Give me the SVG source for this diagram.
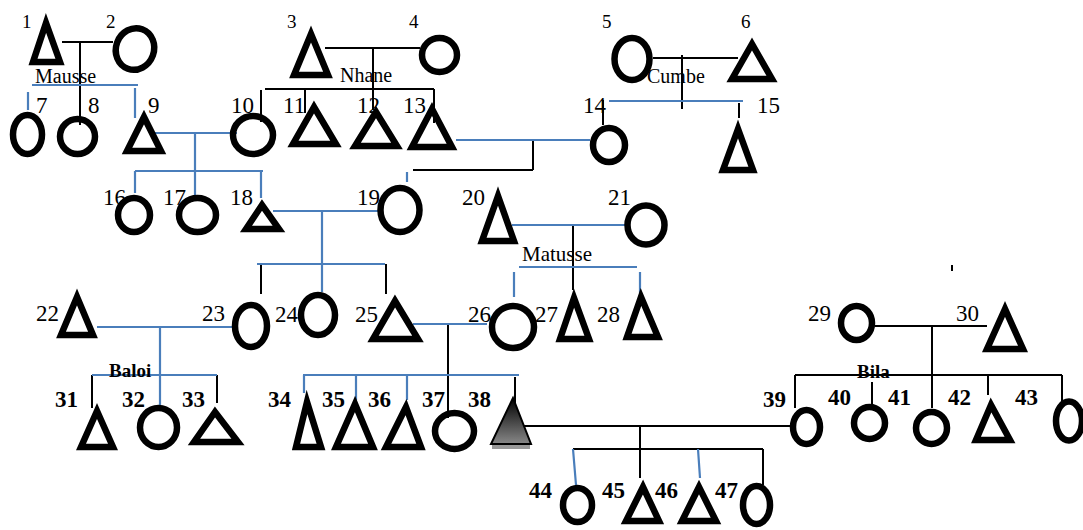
<svg xmlns="http://www.w3.org/2000/svg" width="1083" height="530" viewBox="0 0 1083 530">
<defs>
<linearGradient id="g38" x1="0" y1="0" x2="0" y2="1"><stop offset="0" stop-color="#000"/><stop offset="1" stop-color="#888"/></linearGradient>
<style>
.f{fill:none;stroke:#000;stroke-width:6.5}
.k{stroke:#000;stroke-width:2;fill:none}
.b{stroke:#4a7ebb;stroke-width:2.2;fill:none}
text{font-family:"Liberation Serif","Times New Roman",serif;fill:#000}
.s{font-size:19px}
.n{font-size:23px}
.bd{font-size:23px;font-weight:bold}
.fam{font-size:20px}
.famb{font-size:19px;font-weight:bold}
</style>
</defs>
<rect width="1083" height="530" fill="#fff"/>
<g id="connectors">
<path class="k" d="M62 42H113M80 42V125M325 48H420M373 48V110M265 89H434M261 90V122M305 89V113M434 89V123M653 58H738M682 55V109M603 100V125M739 103V118M533 140V170M413 170H533M573 225V290M261 264V294M386 264V294M448 323V418M92 375V408M217 375V403M515 377V407M523 426H792M640 426V478M573 449H763M763 449V485M875 326H987M932 326V408M795 375H1062M795 375V408M872 382V405M988 375V395M1062 375V402"/>
<path class="b" d="M32 85H138M28 92V110M135 88V118M155 133H237M195 133V195M135 171H263M135 171V193M261 171V198M456 140H590M609 101H743M407 172V182M273 211H378M322 211V292M257 264H385M512 225H627M519 267H637M514 272V297M640 272V293M97 327H233M160 327V405M92 375H217M413 324H487M303 375H519M304 375V393M356 375V400M407 375V400M573 449L576 485M698 449L700 478"/>
<rect x="951" y="265" width="2" height="6" fill="#000"/>
</g>
<g id="n1"><polygon class="f" points="46,23 33,62 60,62"/><text class="s" x="22" y="28">1</text></g>
<g id="n2"><ellipse class="f" cx="135" cy="49" rx="19" ry="21" transform="rotate(20 135 49)"/><text class="s" x="106" y="28">2</text></g>
<g id="n3"><polygon class="f" points="311,34 294,75 328,75"/><text class="s" x="287" y="28">3</text></g>
<g id="n4"><ellipse class="f" cx="439.5" cy="55" rx="17.5" ry="17"/><text class="s" x="409" y="28">4</text></g>
<g id="n5"><ellipse class="f" cx="632" cy="59" rx="17.5" ry="21"/><text class="s" x="602" y="28">5</text></g>
<g id="n6"><polygon class="f" points="752,44 732,79 772,79"/><text class="s" x="741" y="28">6</text></g>
<g id="fam-mausse"><text class="fam" x="35" y="83">Mausse</text></g>
<g id="fam-nhane"><text class="fam" x="340" y="82">Nhane</text></g>
<g id="fam-cumbe"><text class="fam" x="647" y="83">Cumbe</text></g>
<g id="n7"><ellipse class="f" cx="27.5" cy="134.5" rx="14.5" ry="19.5"/><text class="n" x="36" y="113">7</text></g>
<g id="n8"><ellipse class="f" cx="77.5" cy="136.5" rx="17.5" ry="17.5"/><text class="n" x="88" y="113">8</text></g>
<g id="n9"><polygon class="f" points="144,117 127,151 161,151"/><text class="n" x="148" y="113">9</text></g>
<g id="n10"><ellipse class="f" cx="253" cy="135" rx="20" ry="19"/><text class="n" x="231" y="113">10</text></g>
<g id="n11"><polygon class="f" points="314,107 293,144 336,144"/><text class="n" x="283" y="113">11</text></g>
<g id="n12"><polygon class="f" points="376,112 355,146 397,146"/><text class="n" x="357" y="113">12</text></g>
<g id="n13"><polygon class="f" points="432,109 412,147 452,147"/><text class="n" x="403" y="113">13</text></g>
<g id="n14"><ellipse class="f" cx="609" cy="145" rx="16" ry="17"/><text class="n" x="583" y="113">14</text></g>
<g id="n15"><polygon class="f" points="738,129 723,170 753,170"/><text class="n" x="757" y="113">15</text></g>
<g id="n16"><ellipse class="f" cx="134" cy="215" rx="16" ry="17"/><text class="n" x="103" y="205">16</text></g>
<g id="n17"><ellipse class="f" cx="197.5" cy="215" rx="18.5" ry="17"/><text class="n" x="163" y="205">17</text></g>
<g id="n18"><polygon class="f" points="262,205 246,229 279,229"/><text class="n" x="230" y="205">18</text></g>
<g id="n19"><ellipse class="f" cx="400" cy="210" rx="19.5" ry="22"/><text class="n" x="357" y="205">19</text></g>
<g id="n20"><polygon class="f" points="498,196 482,241 514,241"/><text class="n" x="462" y="205">20</text></g>
<g id="n21"><ellipse class="f" cx="646" cy="225" rx="18.5" ry="19.5"/><text class="n" x="608" y="205">21</text></g>
<g id="fam-matusse"><text class="fam" x="522" y="261" style="font-size:21px">Matusse</text></g>
<g id="n22"><polygon class="f" points="77,297 61,335 93,335"/><text class="n" x="36" y="321">22</text></g>
<g id="n23"><ellipse class="f" cx="251" cy="326" rx="16" ry="21"/><text class="n" x="202" y="321">23</text></g>
<g id="n24"><ellipse class="f" cx="318" cy="315" rx="17" ry="20"/><text class="n" x="275" y="322">24</text></g>
<g id="n25"><polygon class="f" points="395,301 373,339 418,339"/><text class="n" x="355" y="322">25</text></g>
<g id="n26"><ellipse class="f" cx="513" cy="327" rx="21" ry="21"/><text class="n" x="468" y="322">26</text></g>
<g id="n27"><polygon class="f" points="574,298 560,339 589,339"/><text class="n" x="535" y="322">27</text></g>
<g id="n28"><polygon class="f" points="641,297 627,337 658,337"/><text class="n" x="597" y="322">28</text></g>
<g id="n29"><ellipse class="f" cx="856.5" cy="323" rx="15.5" ry="17"/><text class="n" x="808" y="321">29</text></g>
<g id="n30"><polygon class="f" points="1005,309 987,349 1023,349"/><text class="n" x="956" y="321">30</text></g>
<g id="fam-baloi"><text class="famb" x="109" y="377">Baloi</text></g>
<g id="fam-bila"><text class="famb" x="857" y="378">Bila</text></g>
<g id="n31"><polygon class="f" points="97,411 81,447 113,447"/><text class="bd" x="55" y="407">31</text></g>
<g id="n32"><ellipse class="f" cx="158.5" cy="427.5" rx="18.5" ry="19.5"/><text class="bd" x="122" y="407">32</text></g>
<g id="n33"><polygon class="f" points="215,412 194,442 238,442"/><text class="bd" x="182" y="407">33</text></g>
<g id="n34"><polygon class="f" points="307,402 296,447 321,447"/><text class="bd" x="268" y="407">34</text></g>
<g id="n35"><polygon class="f" points="355,404 336,447 373,447"/><text class="bd" x="322" y="407">35</text></g>
<g id="n36"><polygon class="f" points="406,407 386,447 421,447"/><text class="bd" x="368" y="407">36</text></g>
<g id="n37"><ellipse class="f" cx="454.5" cy="431" rx="19.5" ry="18"/><text class="bd" x="422" y="407">37</text></g>
<g id="n38"><rect x="492" y="445" width="38" height="4" fill="#999"/><polygon points="513,398 491,444 531,444" fill="url(#g38)" stroke="#000" stroke-width="2"/><text class="bd" x="468" y="407">38</text></g>
<g id="n39"><ellipse class="f" cx="806.5" cy="427" rx="13.5" ry="17"/><text class="bd" x="763" y="407">39</text></g>
<g id="n40"><ellipse class="f" cx="869.5" cy="423" rx="15.5" ry="16"/><text class="bd" x="828" y="405">40</text></g>
<g id="n41"><ellipse class="f" cx="931.5" cy="428" rx="15.5" ry="16"/><text class="bd" x="888" y="405">41</text></g>
<g id="n42"><polygon class="f" points="991,405 976,440 1010,440"/><text class="bd" x="948" y="405">42</text></g>
<g id="n43"><ellipse class="f" cx="1069" cy="421" rx="13" ry="19.5"/><text class="bd" x="1015" y="405">43</text></g>
<g id="n44"><ellipse class="f" cx="577.5" cy="505" rx="14.5" ry="17"/><text class="bd" x="529" y="498">44</text></g>
<g id="n45"><polygon class="f" points="643,487 626,521 659,521"/><text class="bd" x="602" y="498">45</text></g>
<g id="n46"><polygon class="f" points="699,487 682,521 716,521"/><text class="bd" x="655" y="498">46</text></g>
<g id="n47"><ellipse class="f" cx="756.5" cy="505" rx="13.5" ry="19"/><text class="bd" x="715" y="498">47</text></g>
</svg>
